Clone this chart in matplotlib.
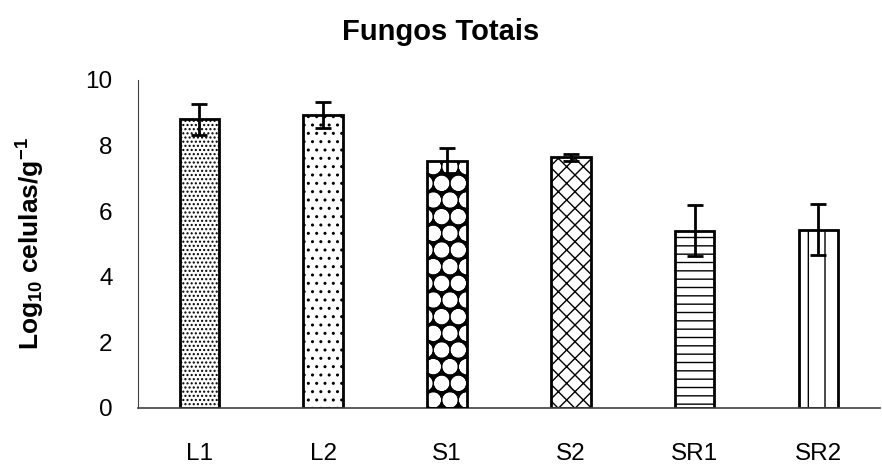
import matplotlib
matplotlib.use("Agg")
import matplotlib.pyplot as plt

plt.rcParams['font.family'] = ['Liberation Sans', 'DejaVu Sans']
plt.rcParams['mathtext.fontset'] = 'custom'
plt.rcParams['mathtext.rm'] = 'Liberation Sans:bold'
plt.rcParams['mathtext.bf'] = 'Liberation Sans:bold'
plt.rcParams['mathtext.default'] = 'bf'
plt.rcParams['hatch.linewidth'] = 1.0

categories = ["L1", "L2", "S1", "S2", "SR1", "SR2"]
values = [8.80, 8.93, 7.54, 7.64, 5.41, 5.43]
errors = [0.47, 0.39, 0.38, 0.11, 0.77, 0.78]
hatches = ["....", "..", "Oo.", "xx", "--", "|"]

fig = plt.figure(figsize=(8.82, 4.65), dpi=100)
ax = fig.add_axes([0.156, 0.1226, 0.842, 0.7054])

x = range(len(categories))
for i in x:
    if hatches[i] == "Oo.":
        # black background with white discs
        with plt.rc_context({'hatch.linewidth': 2.5}):
            ax.bar(i, values[i], width=0.32, color="black", edgecolor="white",
                   hatch=hatches[i], linewidth=0, zorder=2)
        ax.bar(i, values[i], width=0.32, fill=False, edgecolor="black",
               linewidth=2, zorder=3)
    else:
        ax.bar(i, values[i], width=0.32, color="white", edgecolor="black",
               hatch=hatches[i], linewidth=2, zorder=2)

ax.errorbar(list(x), values, yerr=errors, fmt="none", ecolor="black",
            elinewidth=2, capsize=6, capthick=2, zorder=4)

ax.set_xlim(-0.5, len(categories) - 0.5)
ax.set_ylim(0, 10)
ax.set_yticks([0, 2, 4, 6, 8, 10])
ax.set_xticks(list(x))
ax.set_xticklabels(categories)
ax.tick_params(axis="both", length=0, labelsize=17.5)
ax.tick_params(axis="y", pad=18)
ax.tick_params(axis="x", pad=25)

for s in ["top", "right"]:
    ax.spines[s].set_visible(False)
ax.spines["left"].set_color("#404040")
ax.spines["bottom"].set_color("#404040")
ax.spines["bottom"].set_linewidth(1.2)

ax.set_ylabel("Log$_{10}$ celulas/g$^{-1}$", fontsize=19, fontweight="bold", labelpad=28)
ax.set_title("Fungos Totais", fontsize=21, fontweight="bold", pad=29, x=0.408)

fig.savefig("out.png", dpi=100)
